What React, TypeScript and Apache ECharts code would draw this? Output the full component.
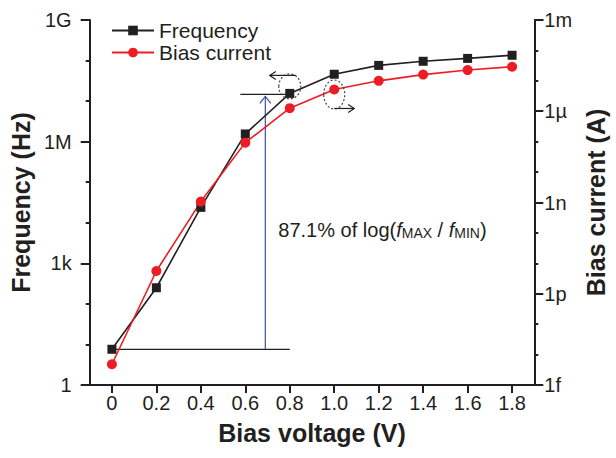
import React, { useEffect, useRef } from 'react';
import * as echarts from 'echarts';

const voltages = ['0', '0.2', '0.4', '0.6', '0.8', '1.0', '1.2', '1.4', '1.6', '1.8'];
const frequencyHz = [7.6, 250, 2.4e4, 1.55e6, 1.55e7, 4.6e7, 7.6e7, 9.6e7, 1.13e8, 1.35e8];
const biasCurrentA = [4.8e-15, 5.6e-12, 1.07e-9, 9.3e-8, 1.26e-6, 5.2e-6, 1.0e-5, 1.6e-5, 2.26e-5, 2.9e-5];
const freqTickLabels: Record<string, string> = { '0': '1', '3': '1k', '6': '1M', '9': '1G' };
const currentTickLabels: Record<string, string> = { '-15': '1f', '-12': '1p', '-9': '1n', '-6': '1µ', '-3': '1m' };

const FONT = 'Liberation Sans, Arial, Helvetica, sans-serif';
const INK = '#231f20';
const RED = '#ed1c24';

const expKey = (v: number) => String(Math.round(Math.log10(v)));

export default function App() {
  const ref = useRef<HTMLDivElement>(null);
  useEffect(() => {
    if (!ref.current) return;
    const chart = echarts.init(ref.current, undefined, { renderer: 'svg' });
    const axisLine = { show: true, lineStyle: { color: INK, width: 2 } };
    const labelStyle = { fontFamily: FONT, fontSize: 20, color: INK };
    const nameStyle = { fontFamily: FONT, fontSize: 25, fontWeight: 'bold' as const, color: INK };
    const option: any = {
      animation: false,
      backgroundColor: '#fff',
      textStyle: { fontFamily: FONT },
      grid: { left: 80, right: 75, top: 20, bottom: 73, containLabel: false },
      legend: {
        data: ['Frequency', 'Bias current'],
        orient: 'vertical',
        left: 106,
        top: 15,
        itemWidth: 42,
        itemHeight: 12,
        itemGap: 1,
        textStyle: { fontFamily: FONT, fontSize: 21, color: INK, lineHeight: 21 },
      },
      xAxis: {
        type: 'category',
        data: voltages,
        boundaryGap: true,
        axisLine,
        axisTick: { show: true, alignWithLabel: true, length: 8, lineStyle: { color: INK, width: 2 } },
        axisLabel: { ...labelStyle, margin: 8, interval: 0 },
        splitLine: { show: false },
        name: 'Bias voltage (V)',
        nameLocation: 'middle',
        nameGap: 35,
        nameTextStyle: nameStyle,
      },
      yAxis: [
        {
          type: 'log', logBase: 10, min: 1, max: 1e9, interval: 1, position: 'left',
          axisLine,
          axisTick: { show: true, length: 4, lineStyle: { color: INK, width: 2 } },
          axisLabel: { ...labelStyle, margin: 18, formatter: (v: number) => freqTickLabels[expKey(v)] ?? '' },
          splitLine: { show: false },
          name: 'Frequency (Hz)', nameLocation: 'middle', nameGap: 47, nameTextStyle: nameStyle,
        },
        {
          type: 'log', logBase: 10, min: 1, max: 1e9, interval: 3, position: 'left',
          axisLine: { show: false },
          axisTick: { show: true, length: 9, lineStyle: { color: INK, width: 2 } },
          axisLabel: { show: false },
          splitLine: { show: false },
        },
        {
          type: 'log', logBase: 10, min: 1e-15, max: 1e-3, interval: 1, position: 'right',
          axisLine,
          axisTick: { show: true, length: 4, lineStyle: { color: INK, width: 2 } },
          axisLabel: { ...labelStyle, margin: 10, formatter: (v: number) => currentTickLabels[expKey(v)] ?? '' },
          splitLine: { show: false },
          name: 'Bias current (A)', nameLocation: 'middle', nameGap: 44, nameTextStyle: nameStyle,
        },
        {
          type: 'log', logBase: 10, min: 1e-15, max: 1e-3, interval: 3, position: 'right',
          axisLine: { show: false },
          axisTick: { show: true, length: 9, lineStyle: { color: INK, width: 2 } },
          axisLabel: { show: false },
          splitLine: { show: false },
        },
      ],
      series: [
        {
          name: 'Frequency', type: 'line', yAxisIndex: 0, data: frequencyHz,
          symbol: 'rect', symbolSize: 9, color: INK,
          lineStyle: { color: INK, width: 1.6 }, itemStyle: { color: INK },
        },
        {
          name: 'Bias current', type: 'line', yAxisIndex: 2, data: biasCurrentA,
          symbol: 'circle', symbolSize: 10, color: RED,
          lineStyle: { color: RED, width: 1.6 }, itemStyle: { color: RED },
        },
      ],
    };
    chart.setOption(option);

    const pf = (i: number, v: number) => chart.convertToPixel({ xAxisIndex: 0, yAxisIndex: 0 }, [i, v]) as number[];
    const pc = (i: number, v: number) => chart.convertToPixel({ xAxisIndex: 0, yAxisIndex: 2 }, [i, v]) as number[];
    const fMin = pf(0, frequencyHz[0]);
    const f08 = pf(4, frequencyHz[4]);
    const f06 = pf(3, frequencyHz[3]);
    const c10 = pc(5, biasCurrentA[5]);
    const yb = fMin[1];
    const yt = f08[1] + 1;
    const ax = f06[0] + 0.45 * (f08[0] - f06[0]);
    const thin = { stroke: INK, lineWidth: 1.2, fill: 'none' };
    const blue = { stroke: '#3b4fa8', lineWidth: 1.2, fill: 'none' };
    const dash = { stroke: '#444', lineWidth: 1.2, fill: 'none', lineDash: [2, 2] };
    const e1 = { cx: f08[0], cy: f08[1] - 7 };
    const e2 = { cx: c10[0], cy: c10[1] + 5 };
    const la = { y: e1.cy - 11, x0: e1.cx + 6, x1: e1.cx - 20 };
    const ra = { y: e2.cy + 14, x0: e2.cx, x1: e2.cx + 20 };

    chart.setOption({
      graphic: [
        { type: 'line', z: 1, shape: { x1: fMin[0], y1: yb, x2: f08[0], y2: yb }, style: thin },
        { type: 'line', z: 1, shape: { x1: f06[0] - 5, y1: yt, x2: f08[0], y2: yt }, style: thin },
        { type: 'line', z: 1, shape: { x1: ax, y1: yb, x2: ax, y2: yt + 2 }, style: blue },
        { type: 'polyline', z: 1, shape: { points: [[ax - 5.5, yt + 9], [ax, yt + 2], [ax + 5.5, yt + 9]] }, style: blue },
        { type: 'ellipse', z: 10, shape: { cx: e1.cx, cy: e1.cy, rx: 11, ry: 12.5 }, style: dash },
        { type: 'ellipse', z: 10, shape: { cx: e2.cx, cy: e2.cy, rx: 10.5, ry: 14.5 }, style: dash },
        { type: 'line', z: 10, shape: { x1: la.x0, y1: la.y, x2: la.x1, y2: la.y }, style: thin },
        { type: 'polyline', z: 10, shape: { points: [[la.x1 + 6, la.y - 4], [la.x1, la.y], [la.x1 + 6, la.y + 4]] }, style: thin },
        { type: 'line', z: 10, shape: { x1: ra.x0, y1: ra.y, x2: ra.x1, y2: ra.y }, style: thin },
        { type: 'polyline', z: 10, shape: { points: [[ra.x1 - 6, ra.y - 4], [ra.x1, ra.y], [ra.x1 - 6, ra.y + 4]] }, style: thin },
        {
          type: 'text', z: 10, x: ax + 13, y: (yb + yt) / 2 + 8,
          style: {
            text: '87.1% of log({i|f}{s|MAX} / {i|f}{s|MIN})',
            fontFamily: FONT, fontSize: 20, fill: INK,
            verticalAlign: 'middle', align: 'left',
            rich: {
              i: { fontFamily: FONT, fontSize: 20, fontStyle: 'italic', fill: INK },
              s: { fontFamily: FONT, fontSize: 14, fill: INK, padding: [7, 0, 0, 0] },
            },
          },
        },
      ],
    });
    return () => chart.dispose();
  }, []);
  return <div ref={ref} style={{ position: 'fixed', left: 0, top: 0, width: 616, height: 458, background: '#fff' }} />;
}
